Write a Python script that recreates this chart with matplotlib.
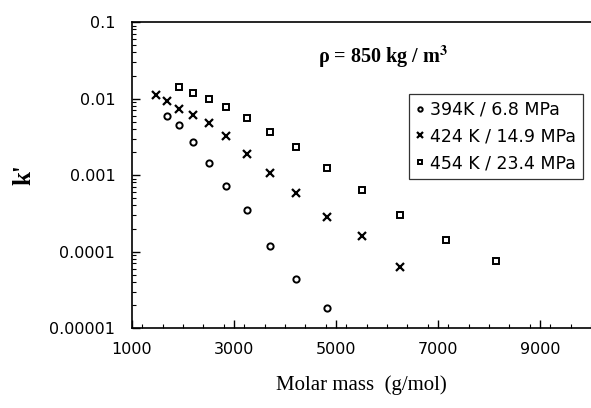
import numpy as np
import matplotlib.pyplot as plt
from matplotlib.ticker import MultipleLocator, LogLocator, FixedLocator, NullFormatter

# データ
mass_394 = [1680, 1920, 2190, 2510, 2850, 3260, 3700, 4220, 4820]
k_394 = [0.0060, 0.0045, 0.0027, 0.00142, 0.00072, 0.00035, 0.000117, 0.000044, 0.0000182]

mass_424 = [1470, 1680, 1920, 2190, 2510, 2850, 3260, 3700, 4220, 4820, 5500, 6260]
k_424 = [0.0111, 0.0094, 0.0073, 0.0061, 0.0048, 0.0032, 0.0019, 0.00105, 0.00059,
         0.000285, 0.00016, 0.000063]

mass_454 = [1920, 2190, 2510, 2850, 3260, 3700, 4220, 4820, 5500, 6260, 7150, 8140]
k_454 = [0.0143, 0.0117, 0.0098, 0.0077, 0.0056, 0.0036, 0.0023, 0.00122, 0.00064,
         0.0003, 0.000143, 0.000075]

labels = ["394K / 6.8 MPa", "424 K / 14.9 MPa", "454 K / 23.4 MPa"]
y_ticks = [0.00001, 0.0001, 0.001, 0.01, 0.1]
y_ticklabels = ["0.00001", "0.0001", "0.001", "0.01", "0.1"]
x_ticks = [1000, 3000, 5000, 7000, 9000]

plt.rcParams["mathtext.fontset"] = "stix"

fig = plt.figure(figsize=(5.91, 4.08), dpi=100)
ax = fig.add_axes([0.2234, 0.196, 0.7766, 0.75])

ax.plot(mass_394, k_394, "o", ms=4.5, mfc="none", mec="black", mew=1.4, ls="none", label=labels[0])
ax.plot(mass_424, k_424, "x", ms=5.5, color="black", mew=1.6, ls="none", label=labels[1])
ax.plot(mass_454, k_454, "s", ms=5, mfc="none", mec="black", mew=1.4, ls="none", label=labels[2])

ax.set_yscale("log")
ax.set_ylim(0.00001, 0.1)
ax.set_xlim(1000, 10000)

ax.yaxis.set_major_locator(FixedLocator(y_ticks))
ax.set_yticklabels(y_ticklabels)
ax.yaxis.set_minor_locator(LogLocator(base=10, subs=np.arange(2, 10)))
ax.yaxis.set_minor_formatter(NullFormatter())

ax.xaxis.set_major_locator(FixedLocator(x_ticks))
ax.xaxis.set_minor_locator(MultipleLocator(400))

ax.tick_params(which="both", direction="in", top=False, right=False, labelsize=11.5)
ax.tick_params(which="major", length=6, width=1)
ax.tick_params(which="minor", length=3, width=0.8)
ax.tick_params(axis="y", pad=12)
ax.tick_params(axis="x", pad=10)
ax.spines["right"].set_visible(False)
for s in ["left", "bottom", "top"]:
    ax.spines[s].set_linewidth(1.2)

ax.set_xlabel("Molar mass  (g/mol)", family="Liberation Serif", fontsize=15, labelpad=13)
ax.set_ylabel("k'", family="Liberation Serif", fontsize=18, fontweight="bold", labelpad=10)

ax.text(0.405, 0.886, "ρ = 850 kg / m$^\\mathbf{3}$", transform=ax.transAxes,
        family="Liberation Serif", fontsize=14.5, fontweight="bold", ha="left", va="center")

leg = ax.legend(loc="upper left", bbox_to_anchor=(0.603, 0.765), frameon=True, fancybox=False,
                edgecolor="black", fontsize=12.5, handlelength=0.5, handletextpad=0.35,
                borderpad=0.4, borderaxespad=0, labelspacing=0.5, markerscale=0.7)
leg.get_frame().set_linewidth(0.9)

fig.savefig("out.png", dpi=100)
